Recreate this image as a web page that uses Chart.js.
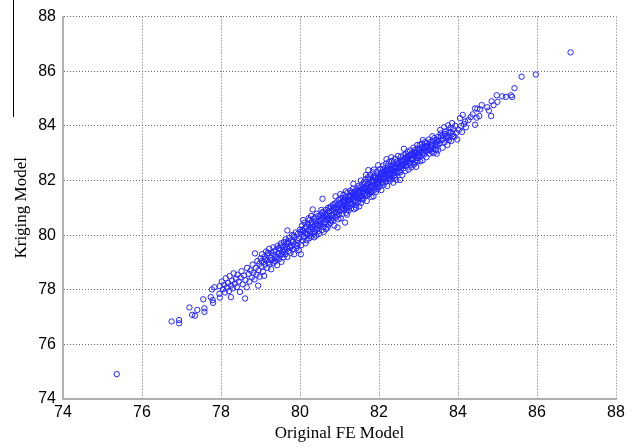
<!DOCTYPE html>
<html>
<head>
<meta charset="utf-8">
<script src="https://cdn.jsdelivr.net/npm/chart.js@4"></script>
<style>
  html, body { margin: 0; padding: 0; background: #fff; }
  canvas { display: block; }
</style>
</head>
<body>
<canvas id="scatterChart" width="641" height="448"></canvas>
<script>
// values (Original FE Model vs Kriging Model)
const feModel = [
  75.36, 76.75, 76.94, 76.94, 77.20, 77.27, 77.34, 77.40, 77.55, 77.58,
  77.58, 77.74, 77.79, 77.80, 77.77, 77.83, 77.96, 77.97, 77.97, 78.25,
  78.02, 78.05, 78.08, 78.10, 78.12, 78.15, 78.18, 78.20, 78.22, 78.25,
  78.28, 78.30, 78.32, 78.35, 78.38, 78.40, 78.42, 78.45, 78.48, 78.50,
  78.52, 78.55, 78.58, 78.61, 78.62, 78.65, 78.66, 78.70, 78.72, 78.75,
  78.78, 78.80, 78.82, 78.85, 78.86, 78.88, 78.90, 78.92, 78.94, 78.95,
  78.97, 78.98, 79.00, 79.02, 79.04, 79.06, 79.08, 79.09, 79.10, 79.12,
  79.14, 79.15, 79.17, 79.18, 79.20, 79.22, 79.23, 79.25, 79.27, 79.28,
  79.30, 79.32, 79.33, 79.35, 79.37, 79.38, 79.40, 79.42, 79.43, 79.45,
  79.47, 79.48, 79.50, 79.52, 79.53, 79.55, 79.57, 79.58, 79.60, 79.61,
  79.63, 79.64, 79.66, 79.68, 79.68, 79.70, 79.71, 79.73, 79.74, 79.76,
  79.77, 79.79, 79.80, 79.82, 79.83, 79.85, 79.86, 79.88, 79.89, 79.91,
  79.92, 79.94, 79.95, 79.97, 79.98, 80.00, 80.02, 80.03, 80.04, 80.05,
  80.07, 80.08, 80.10, 80.11, 80.13, 80.14, 80.16, 80.17, 80.18, 80.20,
  80.21, 80.23, 80.24, 80.26, 80.27, 80.29, 80.30, 80.32, 80.32, 80.34,
  80.35, 80.37, 80.38, 80.40, 80.41, 80.43, 80.44, 80.46, 80.47, 80.49,
  80.50, 80.12, 80.22, 80.28, 80.08, 80.36, 80.42, 80.48, 80.52, 80.53,
  80.55, 80.57, 80.57, 80.58, 80.60, 80.62, 80.63, 80.65, 80.66, 80.68,
  80.69, 80.71, 80.72, 80.74, 80.75, 80.77, 80.78, 80.80, 80.81, 80.83,
  80.84, 80.86, 80.87, 80.89, 80.90, 80.90, 80.92, 80.93, 80.95, 80.95,
  80.97, 80.98, 80.54, 80.60, 80.64, 80.70, 80.76, 80.82, 80.88, 80.94,
  81.00, 81.01, 81.03, 81.04, 81.06, 81.07, 81.09, 81.10, 81.12, 81.13,
  81.14, 81.15, 81.17, 81.18, 81.20, 81.21, 81.23, 81.24, 81.26, 81.27,
  81.29, 81.30, 81.32, 81.33, 81.35, 81.35, 81.37, 81.38, 81.40, 81.41,
  81.43, 81.44, 81.46, 81.47, 81.49, 81.50, 81.02, 81.08, 81.16, 81.22,
  81.28, 81.34, 81.42, 81.48, 81.11, 81.19, 81.25, 81.31, 81.39, 81.45,
  81.52, 81.53, 81.55, 81.57, 81.58, 81.60, 81.62, 81.63, 81.65, 81.66,
  81.68, 81.69, 81.71, 81.72, 81.73, 81.74, 81.75, 81.77, 81.78, 81.80,
  81.81, 81.83, 81.84, 81.86, 81.86, 81.88, 81.89, 81.91, 81.92, 81.94,
  81.95, 81.97, 81.98, 81.98, 81.54, 81.59, 81.64, 81.70, 81.76, 81.82,
  81.87, 81.93, 81.56, 81.61, 81.67, 81.79, 81.85, 81.96, 81.99, 81.51,
  82.00, 82.02, 82.03, 82.05, 82.06, 82.08, 82.09, 82.11, 82.12, 82.14,
  82.15, 82.17, 82.18, 82.20, 82.21, 82.23, 82.24, 82.26, 82.27, 82.29,
  82.30, 82.32, 82.33, 82.35, 82.36, 82.38, 82.39, 82.41, 82.42, 82.44,
  82.45, 82.47, 82.48, 82.50, 82.53, 82.04, 82.10, 82.16, 82.22, 82.28,
  82.34, 82.40, 82.46, 82.07, 82.13, 82.19, 82.25, 82.31, 82.37, 82.43,
  82.52, 82.54, 82.56, 82.57, 82.59, 82.60, 82.62, 82.63, 82.64, 82.66,
  82.67, 82.69, 82.70, 82.72, 82.73, 82.75, 82.76, 82.78, 82.79, 82.81,
  82.82, 82.84, 82.85, 82.87, 82.88, 82.90, 82.91, 82.93, 82.94, 82.96,
  82.97, 82.99, 82.55, 82.61, 82.68, 82.74, 82.80, 82.86, 82.92, 82.98,
  83.00, 83.02, 83.04, 83.06, 83.08, 83.10, 83.12, 83.14, 83.16, 83.18,
  83.20, 83.22, 83.24, 83.26, 83.28, 83.30, 83.32, 83.34, 83.36, 83.38,
  83.40, 83.42, 83.44, 83.46, 83.48, 83.03, 83.11, 83.19, 83.27, 83.35,
  83.43, 83.49, 83.50, 83.53, 83.56, 83.58, 83.61, 83.63, 83.66, 83.68,
  83.71, 83.73, 83.76, 83.78, 83.81, 83.83, 83.86, 83.88, 83.91, 83.93,
  83.96, 83.98, 83.55, 83.65, 83.75, 83.85, 83.46, 84.05, 84.15, 84.18,
  84.26, 84.32, 84.37, 84.43, 84.43, 84.47, 84.49, 84.54, 84.56, 84.60,
  84.74, 84.78, 84.84, 84.85, 84.90, 85.00, 84.98, 85.12, 85.21, 85.34,
  85.37, 85.43, 85.61, 85.97, 86.85, 84.02, 84.08, 84.10, 84.12, 84.20,
  79.51, 79.59, 79.67, 79.75, 79.84, 79.93, 80.01, 80.09, 80.19, 80.27,
  80.33, 80.39, 80.45, 80.51, 80.56, 80.61, 80.67, 80.73, 80.79, 80.85,
  80.91, 80.96, 80.99, 81.05, 81.09, 81.13, 81.18, 81.23, 81.27, 81.31,
  81.36, 81.40, 81.45, 81.49, 81.53, 81.58, 81.62, 81.66, 81.71, 81.75,
  81.79, 81.83, 81.88, 81.92, 81.96, 82.01, 82.05, 82.09, 82.13, 82.17,
  82.21, 82.25, 82.29, 82.33, 82.37, 82.41, 82.45, 82.49, 82.53, 82.57,
  82.61, 82.65, 82.69, 82.73, 82.77, 82.81, 82.85, 82.89, 82.93, 82.97,
  83.01, 83.05, 83.09, 83.13, 83.17, 83.21, 83.25, 83.29, 83.33, 83.37,
  83.41, 83.45, 83.51, 83.57, 83.62, 83.67, 83.72, 83.77, 83.82, 83.87,
  79.03, 79.11, 79.19, 79.26, 79.34, 79.41, 79.46, 79.54, 79.62, 79.69,
  80.06, 80.15, 80.25, 80.31, 80.39, 80.46, 80.54, 80.59, 80.67, 80.73,
  80.81, 80.85, 80.92, 80.99, 81.05, 81.12, 81.19, 81.26, 81.33, 81.39,
  81.46, 81.51, 81.57, 81.63, 81.69, 81.74, 81.80, 81.86, 81.91, 81.97,
  82.02, 82.08, 82.14, 82.20, 82.26, 82.32, 82.38, 82.44, 82.50, 82.56,
  82.62, 82.68, 82.74, 82.80, 82.86, 82.92, 82.98, 83.04, 83.10, 83.16
];
const krigingModel = [
  74.91, 76.84, 76.89, 76.77, 77.35, 77.08, 77.05, 77.26, 77.65, 77.32,
  77.19, 77.73, 77.62, 77.52, 78.01, 78.09, 77.85, 77.71, 78.13, 77.73,
  78.30, 78.02, 78.18, 77.90, 78.42, 78.08, 78.25, 77.95, 78.50, 78.15,
  78.33, 78.05, 78.60, 78.22, 78.40, 78.10, 78.55, 78.30, 77.92, 78.45,
  78.68, 78.20, 78.52, 77.68, 78.35, 78.09, 78.80, 78.58, 78.30, 78.70,
  78.45, 78.92, 78.62, 78.38, 79.33, 78.80, 78.55, 79.05, 78.15, 78.72,
  78.95, 78.48, 79.15, 78.85, 79.30, 78.66, 79.02, 78.51, 79.22, 78.92,
  79.40, 79.08, 78.80, 79.28, 79.00, 79.50, 78.95, 79.18, 78.75, 79.35,
  79.10, 79.55, 78.98, 79.28, 79.05, 79.45, 79.20, 78.90, 79.60, 79.32,
  79.12, 79.50, 79.25, 79.70, 79.02, 79.40, 79.58, 79.18, 79.75, 79.45,
  79.30, 79.85, 79.55, 80.17, 79.20, 79.68, 79.42, 79.90, 79.58, 79.35,
  79.80, 79.62, 80.00, 79.48, 79.75, 79.30, 79.92, 79.65, 80.10, 79.52,
  79.82, 79.70, 80.05, 79.45, 79.88, 80.20, 79.30, 79.63, 80.02, 80.35,
  79.80, 80.15, 79.95, 80.45, 80.08, 79.70, 80.28, 79.81, 80.00, 80.40,
  80.18, 79.88, 80.55, 80.10, 80.30, 79.95, 80.48, 80.94, 80.22, 80.05,
  80.60, 80.35, 80.12, 80.52, 79.98, 80.42, 80.25, 80.70, 80.15, 80.55,
  80.32, 80.25, 80.62, 80.70, 80.55, 79.92, 80.78, 80.05, 80.72, 80.40,
  80.18, 81.33, 80.58, 80.85, 80.30, 80.65, 80.48, 80.92, 80.22, 80.75,
  80.55, 81.00, 80.38, 80.82, 80.62, 80.45, 81.05, 80.70, 80.90, 80.52,
  81.12, 80.78, 80.35, 80.98, 81.42, 80.65, 81.20, 80.85, 80.28, 81.02,
  80.58, 81.30, 80.92, 80.12, 80.78, 80.28, 80.98, 80.62, 81.15, 80.72,
  80.88, 81.15, 80.62, 81.35, 81.00, 80.78, 81.25, 81.48, 80.95, 81.10,
  80.46, 81.38, 80.82, 81.22, 81.55, 81.02, 80.90, 81.40, 81.15, 81.62,
  80.98, 81.30, 81.12, 81.50, 81.88, 81.25, 80.95, 81.58, 81.38, 81.10,
  81.70, 81.45, 81.20, 81.62, 81.32, 81.05, 81.50, 80.98, 81.60, 81.28,
  81.42, 81.70, 81.00, 81.80, 81.20, 80.75, 81.05, 81.55, 81.22, 81.52,
  81.75, 81.40, 81.18, 81.85, 81.55, 81.32, 81.95, 81.68, 81.45, 82.05,
  81.80, 81.25, 81.60, 82.12, 82.38, 81.88, 81.50, 81.72, 82.20, 81.95,
  81.40, 81.82, 82.30, 81.42, 82.00, 81.65, 82.15, 81.88, 81.58, 82.32,
  82.05, 81.75, 82.56, 82.22, 82.00, 81.62, 81.88, 81.48, 82.05, 81.62,
  82.40, 81.98, 81.30, 81.75, 82.20, 81.55, 82.10, 81.68, 81.92, 81.60,
  82.12, 81.78, 82.42, 82.00, 81.65, 82.30, 82.05, 82.55, 81.85, 82.20,
  82.45, 81.95, 82.62, 82.15, 81.80, 82.38, 82.10, 82.68, 81.98, 82.30,
  82.50, 82.05, 82.72, 82.25, 81.92, 82.48, 82.18, 82.80, 82.35, 82.02,
  82.60, 82.28, 82.90, 82.45, 82.02, 82.25, 82.40, 82.05, 82.52, 82.20,
  82.58, 82.10, 82.70, 81.90, 82.32, 82.78, 82.40, 82.85, 82.62, 82.45,
  82.65, 82.30, 82.88, 82.52, 82.20, 82.75, 82.45, 83.16, 82.95, 82.62,
  82.35, 82.85, 82.55, 83.05, 82.70, 82.40, 82.92, 82.62, 83.10, 82.80,
  82.48, 83.00, 82.72, 83.20, 82.58, 82.90, 83.12, 82.75, 82.50, 83.02,
  83.30, 82.82, 82.72, 82.58, 82.98, 82.82, 82.55, 82.95, 82.65, 83.15,
  82.92, 83.18, 82.70, 83.05, 83.35, 82.74, 83.15, 82.95, 83.40, 83.08,
  82.85, 83.28, 83.10, 83.50, 82.98, 83.22, 83.42, 83.05, 83.30, 83.00,
  83.55, 83.25, 83.12, 83.48, 83.32, 83.30, 83.48, 83.25, 83.15, 83.62,
  83.38, 83.10, 83.60, 83.35, 83.72, 83.48, 83.20, 83.65, 83.40, 83.80,
  83.55, 83.30, 83.75, 83.58, 83.92, 83.45, 83.70, 83.88, 83.60, 84.00,
  83.75, 83.50, 83.85, 83.95, 84.02, 84.10, 82.98, 84.28, 84.06, 84.16,
  84.21, 84.32, 84.42, 84.04, 84.64, 84.30, 84.63, 84.36, 84.60, 84.76,
  84.68, 84.56, 84.36, 84.90, 84.76, 84.88, 85.12, 85.08, 85.06, 85.12,
  85.06, 85.38, 85.80, 85.88, 86.69, 83.85, 84.00, 83.78, 84.40, 83.95,
  79.62, 79.38, 79.72, 79.55, 79.98, 79.60, 80.12, 79.92, 80.05, 80.42,
  80.30, 80.65, 80.38, 80.50, 80.80, 80.42, 80.68, 80.88, 80.55, 80.95,
  80.80, 81.10, 80.75, 81.05, 81.35, 81.25, 81.00, 81.30, 81.45, 81.18,
  81.42, 81.60, 81.35, 81.55, 81.65, 81.42, 81.70, 81.55, 81.85, 81.62,
  81.80, 82.00, 81.78, 82.10, 81.85, 82.02, 82.22, 81.95, 82.12, 82.35,
  82.28, 82.05, 82.42, 82.15, 82.35, 82.55, 82.30, 82.62, 82.48, 82.70,
  82.55, 82.80, 82.68, 82.88, 82.65, 82.95, 82.82, 83.05, 82.88, 82.70,
  83.05, 82.88, 83.22, 83.05, 83.18, 83.38, 83.22, 83.10, 83.32, 83.45,
  83.15, 83.30, 83.45, 83.62, 83.50, 83.70, 83.62, 83.48, 83.78, 83.62,
  79.05, 79.12, 79.35, 79.08, 79.40, 79.15, 79.52, 79.30, 79.48, 79.78,
  80.18, 80.32, 79.98, 80.38, 80.20, 80.35, 80.62, 80.70, 80.40, 80.60,
  80.72, 81.02, 80.95, 81.12, 80.92, 81.30, 81.12, 81.28, 81.38, 81.48,
  81.45, 81.38, 81.68, 81.52, 81.72, 81.65, 81.75, 81.92, 81.75, 82.10,
  82.05, 82.18, 82.30, 82.40, 82.22, 82.38, 82.28, 82.52, 82.35, 82.55,
  82.72, 82.55, 82.78, 82.92, 82.78, 83.00, 82.92, 83.12, 82.98, 83.25
];

const axisMin = 74;
const axisMax = 88;
const axisStep = 2;

const tickFont = { family: "'Liberation Sans', Arial, sans-serif", size: 16 };
const titleFont = { family: "'Liberation Serif', 'Times New Roman', serif", size: 17 };

// stray vertical rule at the far left of the original figure
const leftRule = {
  id: "leftRule",
  afterDraw(chart) {
    const ctx = chart.ctx;
    ctx.save();
    ctx.strokeStyle = "#000";
    ctx.lineWidth = 1;
    ctx.beginPath();
    ctx.moveTo(13.5, 0);
    ctx.lineTo(13.5, 117);
    ctx.stroke();
    ctx.restore();
  },
};

const points = feModel.map((x, i) => ({ x: x, y: krigingModel[i] }));

const ctx = document.getElementById("scatterChart").getContext("2d");
new Chart(ctx, {
  type: "scatter",
  data: {
    datasets: [
      {
        data: points,
        pointStyle: "circle",
        pointRadius: 2.7,
        pointBorderWidth: 1,
        pointBorderColor: "#2424ff",
        pointBackgroundColor: "rgba(0,0,0,0)",
      },
    ],
  },
  options: {
    responsive: false,
    animation: false,
    devicePixelRatio: 1,
    layout: { padding: { left: 0, right: 25, top: 10, bottom: 0 } },
    plugins: { legend: { display: false }, tooltip: { enabled: false } },
    scales: {
      x: {
        type: "linear",
        min: axisMin,
        max: axisMax,
        afterFit: (scale) => { scale.height = 49; },
        ticks: { stepSize: axisStep, color: "#000", font: tickFont, padding: 4, maxRotation: 0 },
        grid: { color: "#6e6e6e", lineWidth: 1, drawTicks: false },
        border: { color: "#b0b0b0", width: 2, dash: [1, 2] },
        title: { display: true, text: "Original FE Model", color: "#000", font: titleFont, padding: { top: 0, bottom: 4 } },
      },
      y: {
        type: "linear",
        min: axisMin,
        max: axisMax,
        afterFit: (scale) => { scale.width = 63; },
        ticks: { stepSize: axisStep, color: "#000", font: tickFont, padding: 7 },
        grid: { color: "#6e6e6e", lineWidth: 1, drawTicks: false },
        border: { color: "#b0b0b0", width: 2, dash: [1, 2] },
        title: { display: true, text: "Kriging Model", color: "#000", font: titleFont, padding: { top: 11, bottom: 0 } },
      },
    },
  },
  plugins: [leftRule],
});
</script>
</body>
</html>
